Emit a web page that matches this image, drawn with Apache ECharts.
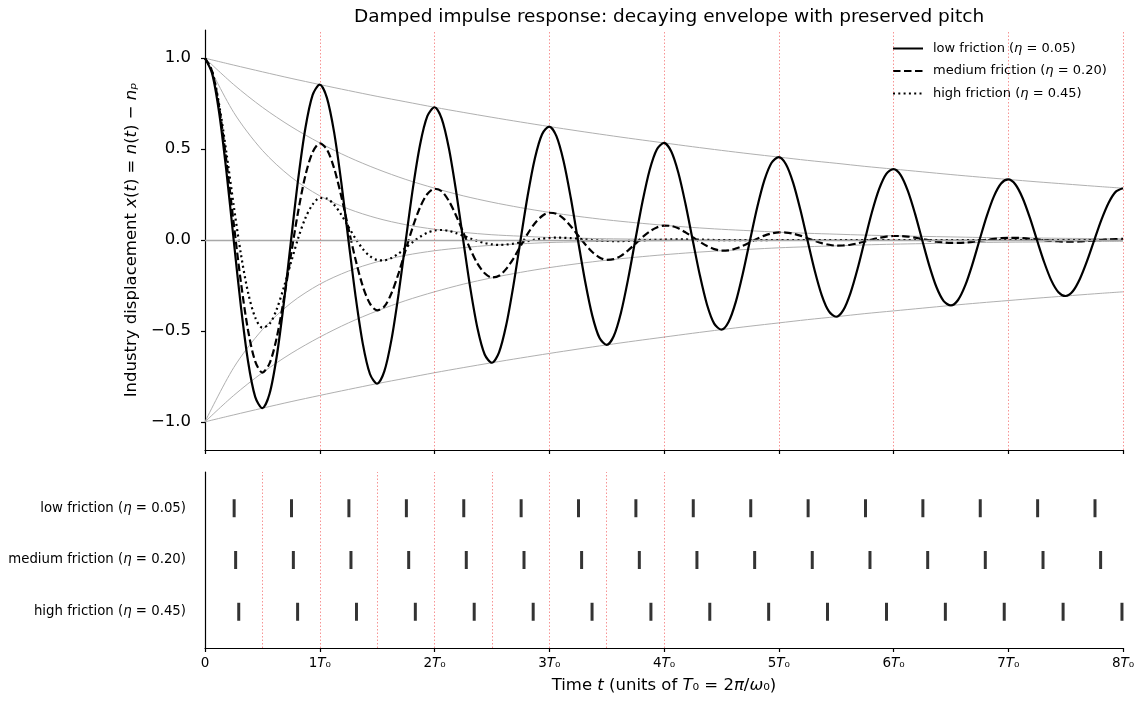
<!DOCTYPE html>
<html>
<head>
<meta charset="utf-8">
<script src="https://cdn.jsdelivr.net/npm/echarts@6/dist/echarts.min.js"></script>
<style>
  html, body { margin: 0; padding: 0; background: #ffffff; }
  #chart { width: 1141px; height: 703px; }
</style>
</head>
<body>
<div id="chart"></div>
<script>
// ---- text ----
const TITLE = 'Damped impulse response: decaying envelope with preserved pitch';
const SERIES_NAMES = ['low friction (η = 0.05)', 'medium friction (η = 0.20)', 'high friction (η = 0.45)'];

// ---- axes ----
const Y_TICKS = [-1.0, -0.5, 0.0, 0.5, 1.0];
const PERIOD_LINES_TOP = [1, 2, 3, 4, 5, 6, 7, 8];
const HALF_PERIOD_LINES_BOTTOM = [0.5, 1, 1.5, 2, 2.5, 3, 3.5, 4];

// ---- displacement x(t), sampled every 1/16 T0 from t = 0 to t = 8 T0 ----
const CURVE_STEP = 1 / 16;
const X_LOW = [
  1.000, 0.915, 0.693, 0.372, 0, -0.364, -0.667, -0.863, -0.925, -0.846, -0.641, -0.344, 0, 0.337, 0.616, 0.797,
  0.855, 0.782, 0.593, 0.318, 0, -0.311, -0.570, -0.737, -0.790, -0.723, -0.548, -0.294, 0, 0.288, 0.527, 0.681,
  0.730, 0.668, 0.506, 0.271, 0, -0.266, -0.487, -0.630, -0.675, -0.618, -0.468, -0.251, 0, 0.246, 0.450, 0.582,
  0.624, 0.571, 0.433, 0.232, 0, -0.227, -0.416, -0.538, -0.577, -0.528, -0.400, -0.214, 0, 0.210, 0.385, 0.498,
  0.534, 0.488, 0.370, 0.198, 0, -0.194, -0.356, -0.460, -0.493, -0.451, -0.342, -0.183, 0, 0.180, 0.329, 0.425,
  0.456, 0.417, 0.316, 0.169, 0, -0.166, -0.304, -0.393, -0.422, -0.386, -0.292, -0.157, 0, 0.154, 0.281, 0.364,
  0.390, 0.357, 0.270, 0.145, 0, -0.142, -0.260, -0.336, -0.360, -0.330, -0.250, -0.134, 0, 0.131, 0.240, 0.311,
  0.333, 0.305, 0.231, 0.124, 0, -0.121, -0.222, -0.287, -0.308, -0.282, -0.213, -0.114, 0, 0.112, 0.205, 0.266,
  0.285
];
const X_MED = [
  1.000, 0.926, 0.722, 0.428, 0.093, -0.230, -0.496, -0.667, -0.729, -0.679, -0.537, -0.323, -0.078, 0.159, 0.355, 0.482,
  0.531, 0.498, 0.395, 0.241, 0.064, -0.109, -0.254, -0.350, -0.387, -0.366, -0.293, -0.182, -0.052, 0.075, 0.181, 0.253,
  0.282, 0.268, 0.215, 0.135, 0.042, -0.051, -0.130, -0.183, -0.206, -0.197, -0.159, -0.102, -0.033, 0.035, 0.092, 0.132,
  0.150, 0.144, 0.118, 0.076, 0.026, -0.023, -0.066, -0.096, -0.109, -0.105, -0.087, -0.057, -0.021, 0.016, 0.047, 0.069,
  0.079, 0.077, 0.064, 0.042, 0.016, -0.010, -0.033, -0.050, -0.058, -0.057, -0.047, -0.032, -0.013, 0.007, 0.024, 0.036,
  0.042, 0.041, 0.035, 0.024, 0.010, -0.004, -0.017, -0.026, -0.031, -0.030, -0.026, -0.018, -0.008, 0.003, 0.012, 0.019,
  0.022, 0.022, 0.019, 0.013, 0.006, -0.002, -0.009, -0.013, -0.016, -0.016, -0.014, -0.010, -0.004, 0.001, 0.006, 0.010,
  0.012, 0.012, 0.010, 0.007, 0.003, -0.001, -0.004, -0.007, -0.009, -0.009, -0.008, -0.005, -0.003, 0, 0.003, 0.005,
  0.006
];
const X_HIGH = [
  1.000, 0.928, 0.738, 0.476, 0.190, -0.076, -0.288, -0.426, -0.482, -0.462, -0.381, -0.259, -0.122, 0.011, 0.121, 0.195,
  0.231, 0.228, 0.194, 0.139, 0.073, 0.007, -0.049, -0.089, -0.110, -0.112, -0.099, -0.074, -0.042, -0.010, 0.018, 0.040,
  0.052, 0.055, 0.050, 0.038, 0.024, 0.008, -0.006, -0.017, -0.024, -0.027, -0.025, -0.020, -0.013, -0.006, 0.002, 0.007,
  0.011, 0.013, 0.012, 0.010, 0.007, 0.003, 0, -0.003, -0.005, -0.006, -0.006, -0.005, -0.004, -0.002, 0, 0.001,
  0.002, 0.003, 0.003, 0.003, 0.002, 0.002, 0.001, 0, -0.001, -0.001, -0.001, -0.001, -0.001, -0.001, -0.001, 0,
  0, 0, 0, 0, 0, 0, 0, 0, 0, 0, 0, 0, 0, 0, 0, 0,
  0, 0, 0, 0, 0, 0, 0, 0, 0, 0, 0, 0, 0, 0, 0, 0,
  0, 0, 0, 0, 0, 0, 0, 0, 0, 0, 0, 0, 0, 0, 0, 0,
  0
];

// ---- decay envelopes, sampled every 1/4 T0 ----
const ENV_STEP = 0.25;
const ENV_LOW = [
  1.000, 0.962, 0.925, 0.889, 0.855, 0.822, 0.790, 0.760,
  0.730, 0.702, 0.675, 0.649, 0.624, 0.600, 0.577, 0.555,
  0.534, 0.513, 0.493, 0.474, 0.456, 0.438, 0.422, 0.405,
  0.390, 0.375, 0.360, 0.346, 0.333, 0.320, 0.308, 0.296,
  0.285
];
const ENV_MED = [
  1.000, 0.855, 0.730, 0.624, 0.534, 0.456, 0.390, 0.333,
  0.285, 0.243, 0.208, 0.178, 0.152, 0.130, 0.111, 0.095,
  0.081, 0.069, 0.059, 0.051, 0.043, 0.037, 0.032, 0.027,
  0.023, 0.020, 0.017, 0.014, 0.012, 0.011, 0.009, 0.008,
  0.007
];
const ENV_HIGH = [
  1.000, 0.702, 0.493, 0.346, 0.243, 0.171, 0.120, 0.084,
  0.059, 0.042, 0.029, 0.021, 0.014, 0.010, 0.007, 0.005,
  0.004, 0.002, 0.002, 0.001, 0.001, 0.001, 0, 0,
  0, 0, 0, 0, 0, 0, 0, 0,
  0
];

// ---- zero-crossing times (units of T0) ----
const CROSS_LOW = [0.254, 0.754, 1.254, 1.755, 2.255, 2.755, 3.255, 3.755, 4.255, 4.756, 5.256, 5.756, 6.256, 6.756, 7.256, 7.756];
const CROSS_MED = [0.267, 0.770, 1.272, 1.775, 2.277, 2.780, 3.282, 3.785, 4.287, 4.790, 5.292, 5.795, 6.298, 6.800, 7.303, 7.805];
const CROSS_HIGH = [0.294, 0.807, 1.320, 1.833, 2.346, 2.860, 3.373, 3.886, 4.399, 4.912, 5.425, 5.939, 6.452, 6.965, 7.478, 7.991];

// ---- helpers ----
const FONT = 'DejaVu Sans';
const withTime = (vals, step, sign) => vals.map((v, i) => [i * step, sign * v]);
const italicEta = s => s.replace('η', '{i|η}');
const REF_LINE = { color: 'rgba(240,60,60,0.55)', width: 1, type: [1.5, 2] };

const chart = echarts.init(document.getElementById('chart'), null, { renderer: 'canvas' });

// upper and lower (mirrored) decay envelopes
const envSeries = [];
[ENV_LOW, ENV_MED, ENV_HIGH].forEach(env => {
  [1, -1].forEach(sign => {
    envSeries.push({
      type: 'line', xAxisIndex: 0, yAxisIndex: 0,
      data: withTime(env, ENV_STEP, sign),
      smooth: 0.3, symbol: 'none', silent: true, z: 2,
      lineStyle: { color: '#b0b0b0', width: 1 }
    });
  });
});

// zero baseline and period reference lines for the upper panel
envSeries[0].markLine = {
  silent: true, symbol: 'none', label: { show: false }, animation: false,
  data: [
    { yAxis: 0, lineStyle: { color: '#a8a8a8', width: 1.3, type: 'solid' } },
    ...PERIOD_LINES_TOP.map(t => ({ xAxis: t, lineStyle: REF_LINE }))
  ]
};

const curveStyles = [
  { type: 'solid', width: 2.2 },
  { type: [7.5, 3.5], width: 2.2 },
  { type: [2, 3.3], width: 2.2 }
];
const curveSeries = [X_LOW, X_MED, X_HIGH].map((vals, k) => ({
  name: SERIES_NAMES[k],
  type: 'line', xAxisIndex: 0, yAxisIndex: 0,
  data: withTime(vals, CURVE_STEP, 1),
  smooth: 0.3, symbol: 'none', z: 5 - k,
  color: '#000000',
  lineStyle: Object.assign({ color: '#000000' }, curveStyles[k])
}));

// zero-crossing event ticks in the lower panel
const crossSeries = [CROSS_LOW, CROSS_MED, CROSS_HIGH].map((times, k) => ({
  type: 'scatter', xAxisIndex: 1, yAxisIndex: 1,
  data: times.map(t => [t, 2 - k]),
  symbol: 'rect', symbolSize: [3, 18], clip: false, silent: true, z: 5,
  itemStyle: { color: '#000000' }
}));
crossSeries[0].markLine = {
  silent: true, symbol: 'none', label: { show: false }, animation: false,
  data: HALF_PERIOD_LINES_BOTTOM.map(t => ({ xAxis: t, lineStyle: REF_LINE }))
};

const periodLabel = v => v === 0 ? '0' : '{n|' + v + '}{i|T}{n|₀}';
const rowLabel = v => italicEta(SERIES_NAMES[2 - Math.round(v)]);

const option = {
  animation: false,
  backgroundColor: '#ffffff',
  textStyle: { fontFamily: FONT },
  title: {
    text: TITLE, left: 664, top: 3, textAlign: 'center',
    textStyle: { fontFamily: FONT, fontSize: 18.5, fontWeight: 'normal', color: '#000000' }
  },
  legend: {
    data: SERIES_NAMES,
    orient: 'vertical', left: 892, top: 42, padding: 0,
    itemWidth: 30, itemHeight: 12, itemGap: 9.5,
    itemStyle: { opacity: 0 },
    formatter: italicEta,
    textStyle: {
      fontFamily: FONT, fontSize: 13, color: '#000000', padding: [0, 0, 0, 5],
      rich: { i: { fontFamily: FONT, fontSize: 13, fontStyle: 'italic', color: '#000000' } }
    }
  },
  grid: [
    { left: 205, top: 30, width: 918, height: 420 },
    { left: 205, top: 472, width: 918, height: 176 }
  ],
  xAxis: [
    {
      gridIndex: 0, type: 'value', min: 0, max: 8, interval: 1,
      axisLine: { onZero: false, lineStyle: { color: '#000000', width: 1.2 } },
      axisTick: { show: true, length: 4, lineStyle: { color: '#000000', width: 1.2 } },
      axisLabel: { show: false },
      splitLine: { show: false }
    },
    {
      gridIndex: 1, type: 'value', min: 0, max: 8, interval: 1,
      axisLine: { onZero: false, lineStyle: { color: '#000000', width: 1.2 } },
      axisTick: { show: true, length: 4, lineStyle: { color: '#000000', width: 1.2 } },
      axisLabel: {
        formatter: periodLabel, fontFamily: FONT, fontSize: 13.5, color: '#000000', margin: 8,
        rich: {
          n: { fontFamily: FONT, fontSize: 13.5, color: '#000000' },
          i: { fontFamily: FONT, fontSize: 13.5, fontStyle: 'italic', color: '#000000' }
        }
      },
      splitLine: { show: false },
      name: 'Time {i|t} (units of {i|T}₀ = 2{i|π}/{i|ω}₀)',
      nameLocation: 'middle', nameGap: 29,
      nameTextStyle: {
        fontFamily: FONT, fontSize: 16.5, color: '#000000',
        rich: { i: { fontFamily: FONT, fontSize: 16.5, fontStyle: 'italic', color: '#000000' } }
      }
    }
  ],
  yAxis: [
    {
      gridIndex: 0, type: 'value', min: -1.155, max: 1.155,
      axisLine: { show: true, onZero: false, lineStyle: { color: '#000000', width: 1.2 } },
      axisTick: { show: true, length: 4, customValues: Y_TICKS, lineStyle: { color: '#000000', width: 1.2 } },
      axisLabel: {
        customValues: Y_TICKS, fontFamily: FONT, fontSize: 16.5, color: '#000000', margin: 14,
        formatter: v => v.toFixed(1).replace('-', '−')
      },
      splitLine: { show: false },
      name: 'Industry displacement {i|x}({i|t}) = {i|n}({i|t}) − {i|n}{i|ₚ}',
      nameLocation: 'middle', nameGap: 63,
      nameTextStyle: {
        fontFamily: FONT, fontSize: 16.5, color: '#000000',
        rich: { i: { fontFamily: FONT, fontSize: 16.5, fontStyle: 'italic', color: '#000000' } }
      }
    },
    {
      gridIndex: 1, type: 'value', min: -0.7, max: 2.7,
      axisLine: { show: true, onZero: false, lineStyle: { color: '#000000', width: 1.2 } },
      axisTick: { show: false },
      axisLabel: {
        customValues: [0, 1, 2], formatter: rowLabel,
        fontFamily: FONT, fontSize: 13.3, color: '#000000', margin: 19,
        rich: { i: { fontFamily: FONT, fontSize: 13.3, fontStyle: 'italic', color: '#000000' } }
      },
      splitLine: { show: false }
    }
  ],
  series: [...envSeries, ...curveSeries, ...crossSeries]
};

chart.setOption(option);
</script>
</body>
</html>
